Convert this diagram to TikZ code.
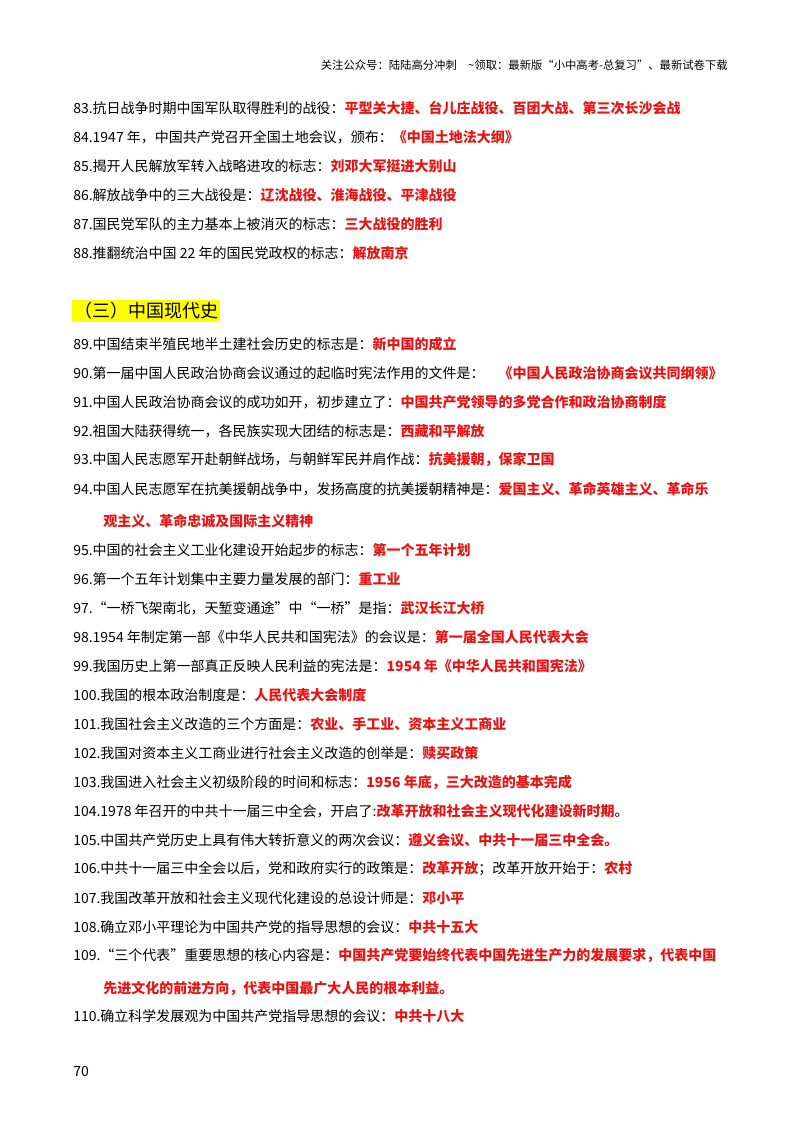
\documentclass[tikz,border=0pt]{standalone}
\usepackage{fontspec}
\setmainfont{Noto Sans CJK SC}
\usepackage{xcolor}
\definecolor{keyred}{RGB}{230,20,20}
\definecolor{hlyellow}{RGB}{255,255,0}
\newcommand{\ans}[1]{\textcolor{keyred}{\bfseries #1}}
\tikzset{
  item/.style={anchor=west, inner sep=0pt, font=\fontsize{10.5}{12}\selectfont},
  head/.style={anchor=west, inner sep=1.5pt, fill=hlyellow, font=\fontsize{13.5}{15}\selectfont},
}
\begin{document}
\begin{tikzpicture}[x=0.75pt,y=-0.75pt]
		\useasboundingbox (0,0) rectangle (800,1132);
		\node[anchor=east, inner sep=0pt, font=\fontsize{8.5}{10}\selectfont] (top) at (728,65) {关注公众号：陆陆高分冲刺\quad \~{}领取：最新版“小中高考-总复习”、最新试卷下载};

		\node[item] (l83) at (73,108) {83.抗日战争时期中国军队取得胜利的战役：\ans{平型关大捷、台儿庄战役、百团大战、第三次长沙会战}};
		\node[item] (l84) at (73,137) {84.1947 年，中国共产党召开全国土地会议，颁布：\ans{《中国土地法大纲》}};
		\node[item] (l85) at (73,166) {85.揭开人民解放军转入战略进攻的标志：\ans{刘邓大军挺进大别山}};
		\node[item] (l86) at (73,195) {86.解放战争中的三大战役是：\ans{辽沈战役、淮海战役、平津战役}};
		\node[item] (l87) at (73,224) {87.国民党军队的主力基本上被消灭的标志：\ans{三大战役的胜利}};
		\node[item] (l88) at (73,253) {88.推翻统治中国 22 年的国民党政权的标志：\ans{解放南京}};

		\node[head] (sec) at (72,311) {（三）中国现代史};

		\node[item] (l89) at (73,344) {89.中国结束半殖民地半土建社会历史的标志是：\ans{新中国的成立}};
		\node[item] (l90) at (73,373) {90.第一届中国人民政治协商会议通过的起临时宪法作用的文件是：\quad\ans{《中国人民政治协商会议共同纲领》}};
		\node[item] (l91) at (73,402) {91.中国人民政治协商会议的成功如开，初步建立了：\ans{中国共产党领导的多党合作和政治协商制度}};
		\node[item] (l92) at (73,431) {92.祖国大陆获得统一，各民族实现大团结的标志是：\ans{西藏和平解放}};
		\node[item] (l93) at (73,460) {93.中国人民志愿军开赴朝鲜战场，与朝鲜军民并肩作战：\ans{抗美援朝，保家卫国}};
		\node[item] (l94) at (73,489) {94.中国人民志愿军在抗美援朝战争中，发扬高度的抗美援朝精神是：\ans{爱国主义、革命英雄主义、革命乐}};
		\node[item] (l94b) at (103,521) {\ans{观主义、革命忠诚及国际主义精神}};
		\node[item] (l95) at (73,550) {95.中国的社会主义工业化建设开始起步的标志：\ans{第一个五年计划}};
		\node[item] (l96) at (73,579) {96.第一个五年计划集中主要力量发展的部门：\ans{重工业}};
		\node[item] (l97) at (73,608) {97.“一桥飞架南北，天堑变通途”中“一桥”是指：\ans{武汉长江大桥}};
		\node[item] (l98) at (73,637) {98.1954 年制定第一部《中华人民共和国宪法》的会议是：\ans{第一届全国人民代表大会}};
		\node[item] (l99) at (73,666) {99.我国历史上第一部真正反映人民利益的宪法是：\ans{1954 年《中华人民共和国宪法》}};
		\node[item] (l100) at (73,695) {100.我国的根本政治制度是：\ans{人民代表大会制度}};
		\node[item] (l101) at (73,724) {101.我国社会主义改造的三个方面是：\ans{农业、手工业、资本主义工商业}};
		\node[item] (l102) at (73,753) {102.我国对资本主义工商业进行社会主义改造的创举是：\ans{赎买政策}};
		\node[item] (l103) at (73,782) {103.我国进入社会主义初级阶段的时间和标志：\ans{1956 年底，三大改造的基本完成}};
		\node[item] (l104) at (73,811) {104.1978 年召开的中共十一届三中全会，开启了:\ans{改革开放和社会主义现代化建设新时期}。};
		\node[item] (l105) at (73,840) {105.中国共产党历史上具有伟大转折意义的两次会议：\ans{遵义会议、中共十一届三中全会。}};
		\node[item] (l106) at (73,869) {106.中共十一届三中全会以后，党和政府实行的政策是：\ans{改革开放}；改革开放开始于：\ans{农村}};
		\node[item] (l107) at (73,898) {107.我国改革开放和社会主义现代化建设的总设计师是：\ans{邓小平}};
		\node[item] (l108) at (73,927) {108.确立邓小平理论为中国共产党的指导思想的会议：\ans{中共十五大}};
		\node[item] (l109) at (73,956) {109.“三个代表”重要思想的核心内容是：\ans{中国共产党要始终代表中国先进生产力的发展要求，代表中国}};
		\node[item] (l109b) at (103,988) {\ans{先进文化的前进方向，代表中国最广大人民的根本利益。}};
		\node[item] (l110) at (73,1016) {110.确立科学发展观为中国共产党指导思想的会议：\ans{中共十八大}};

		\node[item] (page) at (73,1071) {70};
	\end{tikzpicture}
\end{document}
